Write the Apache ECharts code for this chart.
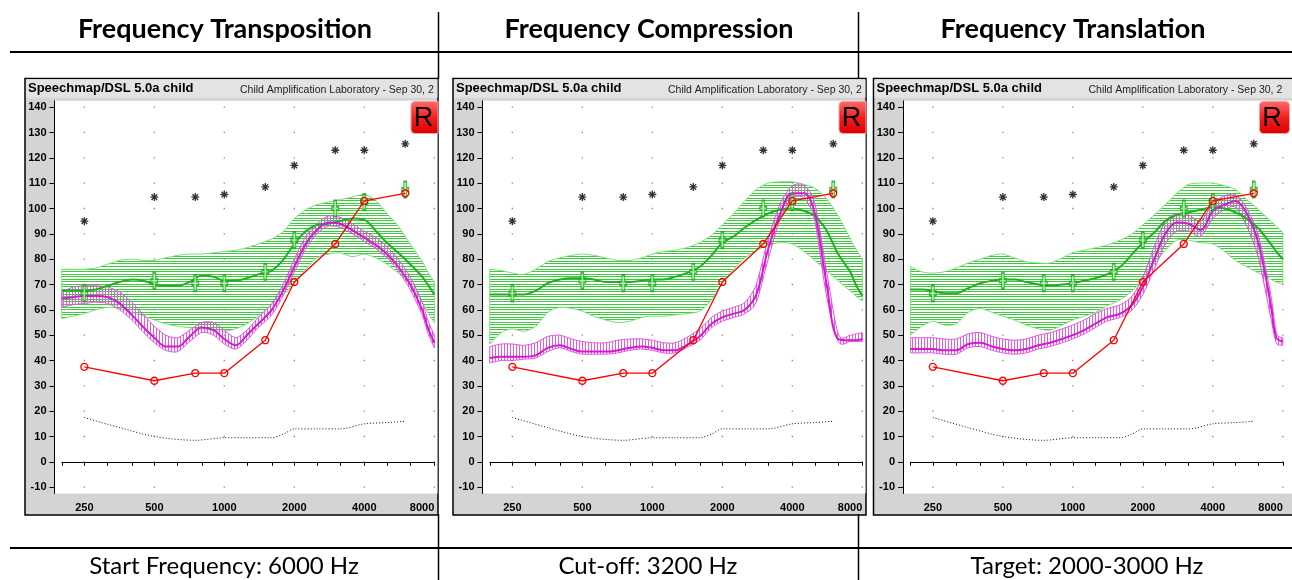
<!DOCTYPE html>
<html>
<head>
<meta charset="utf-8">
<script src="https://cdn.jsdelivr.net/npm/echarts@6/dist/echarts.min.js"></script>
<style>
html,body{margin:0;padding:0;background:#fff;}
#c{width:1292px;height:580px;}
</style>
</head>
<body>
<div id="c"></div>
<script>
// ---- Data ----------------------------------------------------------------
const panelTitles = ['Frequency Transposition', 'Frequency Compression', 'Frequency Translation'];
const panelCaptions = ['Start Frequency: 6000 Hz', 'Cut-off: 3200 Hz', 'Target: 2000-3000 Hz'];
const headerLeft = 'Speechmap/DSL 5.0a child';
const headerRight = 'Child Amplification Laboratory - Sep 30, 2';

const octaveTicks = [250, 500, 1000, 2000, 4000, 8000];
const thirdOctaveTicks = [200, 250, 315, 400, 500, 630, 800, 1000, 1250, 1600, 2000, 2500, 3150, 4000, 5000, 6300, 8000];
const dbTicks = [-10, 0, 10, 20, 30, 40, 50, 60, 70, 80, 90, 100, 110, 120, 130, 140];

// audiometric frequencies
const markFreqs = [250, 500, 750, 1000, 1500, 2000, 3000, 4000, 6000];
const uclValues = [95, 104.5, 104.5, 105.5, 108.5, 117, 123, 123, 125.5];
const thresholdValues = [37.5, 32, 35, 35, 48, 71, 86, 103, 106];
const targetValues = [66.5, 71.5, 70.5, 70.5, 75, 87.5, 100, 102.5, 107.5];

// normal hearing threshold (dotted)
const normalFreqs = [250, 355, 500, 750, 1000, 1250, 1600, 1800, 2000, 2500, 3150, 4000, 5000, 6000];
const normalValues = [17.5, 13.5, 10, 8.5, 9.5, 9.5, 9.5, 11, 13, 13, 13, 15, 15.5, 16];

// 1/6-octave analysis frequencies for the speech curves
const curveFreqs = [200, 224, 250, 280, 315, 355, 400, 450, 500, 560, 630, 710, 800, 900, 1000, 1120, 1250, 1400, 1600, 1800, 2000, 2240, 2500, 2800, 3150, 3550, 4000, 4500, 5000, 5600, 6300, 7100, 7500, 8000];

// Frequency transposition
const transUnaidedHigh = [76,76,76,76.5,78,79.5,80,79.5,79.5,80.5,81.5,82,82,82.5,83,83.5,84.5,86,88,91,96,99.5,101.5,102.5,103.5,104.5,105.5,103,98,93,86,79,75,71];
const transUnaidedLow  = [56.5,57.5,58.5,60,61,60.5,59,57.5,56,54.5,53.5,53,52.5,52,51.5,52.5,54.5,57.5,62,66,70.5,76,80.5,82,82.5,81,82,80.5,78,74.5,70,63,59,55];
const transUnaidedMid  = [67.5,67.5,67.5,68,69.5,71,72,71.5,70,69.5,69.5,71,73.5,73,71.5,71.5,72.5,74,75.5,80,86,91,93.5,94,95,96,95.5,91,86.5,82.5,78,73,70,66];
const transAidedHigh   = [67,69,69.5,69.5,69,67,63,58,53.5,50,49,52,55,55,52,49,52,57,62.5,70.5,80,89,94,97,96.5,94,91,88.5,85,80,73,63,56,50];
const transAidedMid    = [64.5,65,65.5,65.5,65,62.5,58,53,49,45.5,45.5,49.5,53,52,48.5,46,50,54.5,60,68,77,86,91.5,94.5,94,91.5,88.5,85.5,82,77,70,60,53,47];
const transAidedLow    = [61,62,62.5,63,62.5,60,56,51,47,44,43.5,47.5,51,50,46.5,44.5,48,53,58,66,75,84,90,93,92.5,90,87,84,80.5,75.5,68,58,51,45];

// Frequency compression
const compUnaidedHigh = [76,75.5,74.5,74,76,79,80.5,81.5,82,81.5,80.5,79.5,79.5,80.5,82,83,83.5,84.5,86.5,89.5,93.5,98,103,107.5,110,110.5,110.5,109.5,108,104,97,88,84,80];
const compUnaidedLow  = [46.5,51,52.5,51.5,53.5,59,61,60.5,59.5,57.5,56,55,55.5,57,57.5,57.5,58,58.5,59.5,64,70.5,76,80.5,83.5,85.5,86.5,86,83,79.5,75.5,71.5,67.5,65.5,63.5];
const compUnaidedMid  = [66,66,66,66,67.5,70.5,72,72.5,72.5,72,71,71,71,71.5,72,72,73,74.5,77,81.5,86.5,89,92.5,95.5,98,99.5,100,99,97,91.5,82,75,70,65.5];
const compAidedHigh   = [45.5,46.5,46.5,46,47,49.5,50,48.5,47.5,47,47,48,48.5,48.5,48,47,47,49,52.5,57,59.5,61,63,70,88,102,109,109,102,76,50.5,50,50.5,51];
const compAidedMid    = [41,41.5,41.5,41.5,42,45,46,44.5,43.5,43.5,43.5,44,45,45.5,45,44,44,46,49.5,54.5,57,58.5,60,66,84,98,106,106,98,71,48.5,48,48,48.5];
const compAidedLow    = [39,40,40,40.5,41,43.5,45,43.5,42.5,42.5,42.5,43,44,44.5,44,43,43,45,48,53,55.5,57,58.5,63,80,96,104,104,95,66,47.5,47.5,47.5,47.5];

// Frequency translation
const translUnaidedHigh = [77,75,74.5,75,76.5,78.5,80,81.5,82,80.5,79,78.5,78.5,80.5,82.5,83.5,84.5,85.5,87.5,90,93.5,97.5,101.5,106,109.5,110,110,109,107.5,103.5,99.5,95,93,90.5];
const translUnaidedLow  = [50,53.5,55.5,54,54.5,59,60.5,59,57.5,56,54,52.5,52,54,56,57.5,59,61.5,64,67.5,72,78,83.5,87.5,87.5,86.5,86,83,79.5,77,74.5,72,71,70];
const translUnaidedMid  = [68,68,67.5,66.5,66.5,68.5,70.5,71.5,72,72,71,70,69.5,70,70.5,71.5,72.5,74,77,82,86.5,90.5,95,97.5,98.5,99.5,100.5,100,98.5,96,92,86,83,80];
const translAidedHigh   = [49,49,49,48.5,48.5,50.5,51,49.5,48.5,48,48.5,50,51,52.5,54,56,58.5,60.5,62,65.5,73,85,95,98,97.5,95,102,105,105.5,100,89,66,51,49];
const translAidedMid    = [44.5,44.5,44.5,44,44,46.5,47,45.5,44.5,44,44.5,46,47,48.5,50,52,54.5,57,58.5,62,69,80,90,94.5,94,91.5,99,101.5,103,98,86,62,49,47.5];
const translAidedLow    = [43,43,43,42.5,42.5,45,45.5,44,43,42.5,43,44.5,45.5,47,48.5,50.5,53,55.5,57,60,66,76,86,91,91,89,96,99.5,100.5,93,80,57,47,46];

const panelCurves = [
  {gHi: transUnaidedHigh, gLo: transUnaidedLow, gMid: transUnaidedMid, mHi: transAidedHigh, mMid: transAidedMid, mLo: transAidedLow},
  {gHi: compUnaidedHigh,  gLo: compUnaidedLow,  gMid: compUnaidedMid,  mHi: compAidedHigh,  mMid: compAidedMid,  mLo: compAidedLow},
  {gHi: translUnaidedHigh,gLo: translUnaidedLow,gMid: translUnaidedMid,mHi: translAidedHigh,mMid: translAidedMid,mLo: translAidedLow}
];

// ---- Layout --------------------------------------------------------------
const panelShift = [0, 428, 848.5];
const panelWidth = [413, 413, 425];
const titleX = [225, 649, 1073];
const captionX = [224, 648, 1087];

const UI_FONT = '"Liberation Sans", Arial, sans-serif';
const DOC_FONT = 'Lato, "Open Sans", sans-serif';

// hatch fills
function makeHatch(w, h, draw) {
  const c = document.createElement('canvas');
  c.width = w; c.height = h;
  draw(c.getContext('2d'));
  return c;
}
const greenHatch = makeHatch(4, 38, g => {
  g.fillStyle = '#3fc93f';
  for (let i = 0; i < 15; i++) g.fillRect(0, Math.round(i * 38 / 15), 4, 1);
});
const pinkHatch = makeHatch(3, 4, g => {
  g.fillStyle = '#e25be2';
  g.fillRect(0, 0, 1, 4);
});

// asterisk marker built from four bars
function barPoly(angle) {
  const c = 10, L = 10, W = 1.7;
  const dx = Math.cos(angle), dy = Math.sin(angle);
  const px = -dy, py = dx;
  const pts = [[c + dx*L + px*W, c + dy*L + py*W], [c + dx*L - px*W, c + dy*L - py*W],
               [c - dx*L - px*W, c - dy*L - py*W], [c - dx*L + px*W, c - dy*L + py*W]];
  return 'M' + pts.map(p => p[0].toFixed(2) + ',' + p[1].toFixed(2)).join('L') + 'Z';
}
const asteriskPath = 'path://' + [0, Math.PI/4, Math.PI/2, 3*Math.PI/4].map(barPoly).join(' ');
const targetPath = 'path://M3,0L7,0L7,7L10,7L10,11L7,11L7,18L3,18L3,11L0,11L0,7L3,7Z';

const pairs = (xs, ys) => xs.map((x, i) => [x, ys[i]]);

// cardinal-spline smoothing of pixel points (rendering only)
function splinePts(pts, k, steps) {
  const out = [];
  const n = pts.length;
  for (let i = 0; i < n - 1; i++) {
    const p0 = pts[Math.max(i - 1, 0)], p1 = pts[i], p2 = pts[i + 1], p3 = pts[Math.min(i + 2, n - 1)];
    const m1x = k * (p2[0] - p0[0]), m1y = k * (p2[1] - p0[1]);
    const m2x = k * (p3[0] - p1[0]), m2y = k * (p3[1] - p1[1]);
    for (let s = 0; s < steps; s++) {
      const t = s / steps, t2 = t * t, t3 = t2 * t;
      const h00 = 2*t3 - 3*t2 + 1, h10 = t3 - 2*t2 + t, h01 = -2*t3 + 3*t2, h11 = t3 - t2;
      out.push([h00*p1[0] + h10*m1x + h01*p2[0] + h11*m2x, h00*p1[1] + h10*m1y + h01*p2[1] + h11*m2y]);
    }
  }
  out.push(pts[n - 1].slice());
  return out;
}

// hatched band between a low and a high curve, outlined all round
function bandSeries(p, lo, hi, pattern, edgeColor, z) {
  const rows = curveFreqs.map((f, i) => [f, lo[i], hi[i]]);
  return {
    type: 'custom', coordinateSystem: 'cartesian2d', xAxisIndex: p, yAxisIndex: p,
    silent: true, clip: true, z: z, data: rows, encode: {x: 0, y: [1, 2]},
    renderItem: function (params, api) {
      if (params.dataIndex !== 0) return null;
      const top = [], bot = [];
      for (let j = 0; j < rows.length; j++) {
        const f = api.value(0, j);
        top.push(api.coord([f, api.value(2, j)]));
        bot.push(api.coord([f, api.value(1, j)]));
      }
      const st = splinePts(top, 0.4, 8), sb = splinePts(bot, 0.4, 8);
      const poly = st.concat(sb.slice().reverse());
      return {
        type: 'polygon', shape: {points: poly},
        style: {fill: {image: pattern, repeat: 'repeat'}, stroke: edgeColor, lineWidth: 1}
      };
    }
  };
}

const grids = [], xAxes = [], yAxes = [], series = [], graphics = [];

panelCurves.forEach((cv, p) => {
  const dx = panelShift[p];
  grids.push({left: 61.8 + dx, top: 100.8, width: 372.5, height: 392.7, containLabel: false});
  xAxes.push({
    gridIndex: p, type: 'log', logBase: 2, min: 200, max: 8000, offset: 2,
    axisLine: {show: true, lineStyle: {color: '#000', width: 1}},
    axisTick: {show: true, inside: false, length: 4, customValues: thirdOctaveTicks, lineStyle: {color: '#000'}},
    axisLabel: {show: true, customValues: octaveTicks, margin: 7, color: '#000', fontSize: 11, fontWeight: 'bold',
                fontFamily: UI_FONT, formatter: v => String(Math.round(v)), alignMaxLabel: 'right'},
    splitLine: {show: false}, minorTick: {show: false}, minorSplitLine: {show: false}
  });
  yAxes.push({
    gridIndex: p, type: 'value', min: -12.5, max: 142.5, offset: 7.3,
    axisLine: {show: true, lineStyle: {color: '#000', width: 1}},
    axisTick: {show: true, length: 5, customValues: dbTicks, lineStyle: {color: '#000'}},
    axisLabel: {show: true, customValues: dbTicks, margin: 8, color: '#000', fontSize: 11, fontWeight: 'bold', fontFamily: UI_FONT},
    splitLine: {show: false}
  });

  const base = {xAxisIndex: p, yAxisIndex: p, silent: true, animation: false};
  // dotted reference grid
  const dots = [];
  octaveTicks.forEach(f => dbTicks.forEach(d => dots.push([f, d])));
  series.push(Object.assign({type: 'scatter', data: dots, symbol: 'rect', symbolSize: 1.3,
    itemStyle: {color: '#666'}, z: 1}, base));

  // unaided (green) and aided (magenta) speech ranges
  series.push(bandSeries(p, cv.gLo, cv.gHi, greenHatch, '#74dc74', 2));
  series.push(bandSeries(p, cv.mLo, cv.mHi, pinkHatch, '#e050e0', 3));

  // long-term averages
  series.push(Object.assign({type: 'line', data: pairs(curveFreqs, cv.gMid), smooth: 0.35, symbol: 'none',
    lineStyle: {color: '#1fb01f', width: 2}, z: 4}, base));
  series.push(Object.assign({type: 'line', data: pairs(curveFreqs, cv.mMid), smooth: 0.35, symbol: 'none',
    lineStyle: {color: '#d21ad2', width: 2}, z: 4}, base));

  // normal hearing (dotted)
  series.push(Object.assign({type: 'line', data: pairs(normalFreqs, normalValues), smooth: 0.3, symbol: 'none',
    lineStyle: {color: '#111', width: 1, type: [1, 2]}, z: 4}, base));

  // targets
  series.push(Object.assign({type: 'scatter', data: pairs(markFreqs, targetValues), symbol: targetPath, symbolSize: [7, 16],
    itemStyle: {color: '#aaeeaa', borderColor: '#12a612', borderWidth: 1.4}, z: 5}, base));

  // thresholds
  series.push(Object.assign({type: 'line', data: pairs(markFreqs, thresholdValues), symbol: 'circle', symbolSize: 7,
    showSymbol: true, lineStyle: {color: '#ff0000', width: 1.3},
    itemStyle: {color: 'rgba(255,255,255,0)', borderColor: '#ff0000', borderWidth: 1.3}, z: 6}, base));

  // UCL asterisks
  series.push(Object.assign({type: 'scatter', data: pairs(markFreqs, uclValues), symbol: asteriskPath, symbolSize: 8,
    itemStyle: {color: '#000'}, z: 6}, base));

  // panel frame
  const w = panelWidth[p];
  graphics.push({type: 'rect', z: -10, shape: {x: 25 + dx, y: 78.5, width: w, height: 436.5},
    style: {fill: '#d4d4d4', stroke: '#000', lineWidth: 1.5}});
  graphics.push({type: 'rect', z: -9, shape: {x: 26 + dx, y: 79.3, width: w - 1.5, height: 18.5},
    style: {fill: '#e3e3e3'}});
  graphics.push({type: 'rect', z: -8, shape: {x: 55 + dx, y: 100.8, width: w - 30.5, height: 392.7},
    style: {fill: '#ffffff'}});
  graphics.push({type: 'text', z: 10, style: {text: headerLeft, x: 28 + dx, y: 88.5, fill: '#000',
    font: 'bold 13px ' + UI_FONT, textAlign: 'left', textVerticalAlign: 'middle', align: 'left', verticalAlign: 'middle'}});
  graphics.push({type: 'text', z: 10, style: {text: headerRight, x: 240 + dx, y: 90.5, fill: '#222',
    font: '10.5px ' + UI_FONT, textAlign: 'left', textVerticalAlign: 'middle', align: 'left', verticalAlign: 'middle'}});
  // "R" ear badge
  const bw = p === 2 ? 30 : 27;
  graphics.push({type: 'rect', z: 10, shape: {x: 411 + dx, y: 101.5, width: bw, height: 32, r: p === 2 ? 4 : [4, 0, 0, 4]},
    style: {fill: new echarts.graphic.LinearGradient(0, 0, 0, 1, [{offset: 0, color: '#ff6b6b'}, {offset: 0.5, color: '#f22020'}, {offset: 1, color: '#d80000'}]),
            stroke: '#f7a0a0', lineWidth: 1}});
  graphics.push({type: 'text', z: 11, style: {text: 'R', x: 423.5 + dx, y: 118.5, fill: '#000',
    font: '27px ' + UI_FONT, textAlign: 'center', textVerticalAlign: 'middle', align: 'center', verticalAlign: 'middle'}});

  // table headings and captions
  graphics.push({type: 'text', z: 10, style: {text: panelTitles[p], x: titleX[p], y: 29, fill: '#000',
    font: 'bold 27px ' + DOC_FONT, textAlign: 'center', textVerticalAlign: 'middle', align: 'center', verticalAlign: 'middle'}});
  graphics.push({type: 'text', z: 10, style: {text: panelCaptions[p], x: captionX[p], y: 566, fill: '#000',
    font: '24px ' + DOC_FONT, textAlign: 'center', textVerticalAlign: 'middle', align: 'center', verticalAlign: 'middle'}});
});

// table rules
[[10, 52, 1292, 52, 2], [10, 548, 1292, 548, 2],
 [438.5, 12, 438.5, 79, 1.5], [858.5, 12, 858.5, 79, 1.5],
 [438.5, 514, 438.5, 580, 1.5], [858.5, 514, 858.5, 580, 1.5]].forEach(l => {
  graphics.push({type: 'line', z: 12, shape: {x1: l[0], y1: l[1], x2: l[2], y2: l[3]}, style: {stroke: '#000', lineWidth: l[4]}});
});

const chart = echarts.init(document.getElementById('c'), null, {renderer: 'canvas'});
chart.setOption({
  animation: false,
  backgroundColor: '#ffffff',
  grid: grids,
  xAxis: xAxes,
  yAxis: yAxes,
  series: series,
  graphic: {elements: graphics}
});
</script>
</body>
</html>
